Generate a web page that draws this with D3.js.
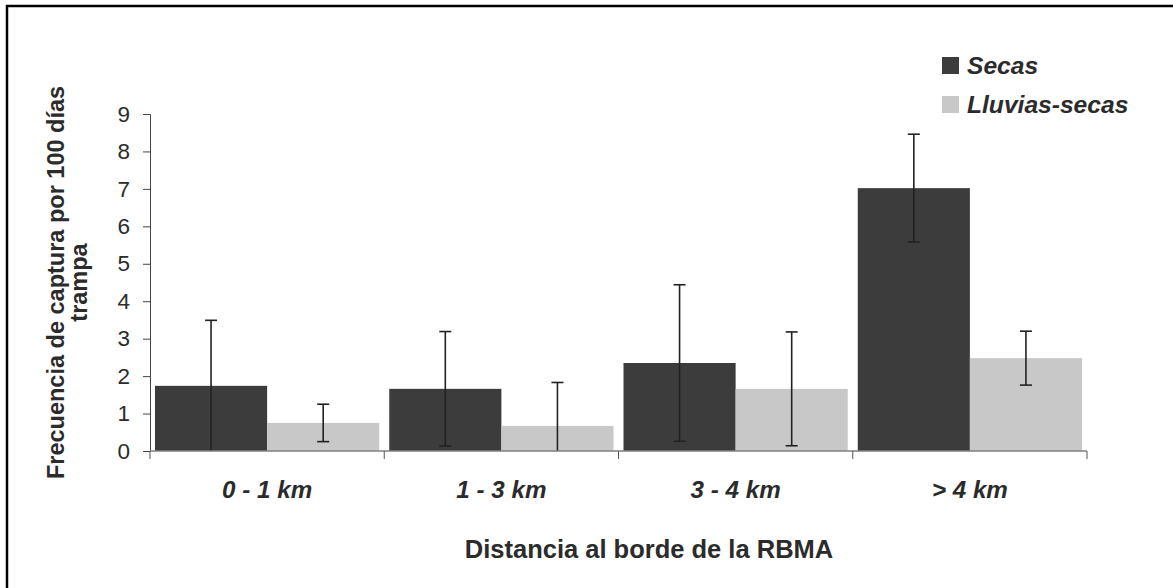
<!DOCTYPE html>
<html>
<head>
<meta charset="utf-8">
<script src="https://cdn.jsdelivr.net/npm/d3@7"></script>
<style>
  html, body { margin: 0; padding: 0; background: #fff; }
  svg { display: block; font-family: "Liberation Sans", Arial, sans-serif; }
</style>
</head>
<body>
<svg id="chart" width="1173" height="588"></svg>
<script>
// Distance classes from the reserve border
const categories = ["0 - 1 km", "1 - 3 km", "3 - 4 km", "> 4 km"];
const seriesNames = ["Secas", "Lluvias-secas"];
const seriesColors = ["#3c3c3c", "#c8c8c8"];

// Capture frequency per 100 trap-days, with error half-widths
const secasValues = [1.74, 1.66, 2.35, 7.02];
const secasErrors = [1.75, 1.53, 2.09, 1.44];
const lluviasValues = [0.75, 0.67, 1.66, 2.48];
const lluviasErrors = [0.50, 1.16, 1.52, 0.72];

const yTicks = [0, 1, 2, 3, 4, 5, 6, 7, 8, 9];

const svg = d3.select("#chart");

// outer frame
svg.append("rect")
  .attr("x", 7).attr("y", 6)
  .attr("width", 1300).attr("height", 700)
  .attr("fill", "none").attr("stroke", "#000").attr("stroke-width", 2.5);

const plot = { left: 150, right: 1087, top: 114, bottom: 451 };

const x = d3.scaleBand().domain(categories).range([plot.left, plot.right]).padding(0);
const xSub = d3.scaleBand().domain(seriesNames).range([5, x.bandwidth() - 5]).padding(0);
const y = d3.scaleLinear().domain([0, 9]).range([plot.bottom, plot.top]);

const rows = categories.map((c, i) => ({
  cat: c,
  vals: [
    { s: seriesNames[0], v: secasValues[i], e: secasErrors[i], color: seriesColors[0] },
    { s: seriesNames[1], v: lluviasValues[i], e: lluviasErrors[i], color: seriesColors[1] }
  ]
}));

// bars
const groups = svg.append("g").selectAll("g")
  .data(rows).join("g")
  .attr("transform", d => `translate(${x(d.cat)},0)`);

groups.selectAll("rect")
  .data(d => d.vals).join("rect")
  .attr("x", d => xSub(d.s))
  .attr("y", d => y(d.v))
  .attr("width", xSub.bandwidth())
  .attr("height", d => y(0) - y(d.v))
  .attr("fill", d => d.color);

// y axis
const yAxis = svg.append("g")
  .attr("transform", `translate(${plot.left},0)`)
  .call(d3.axisLeft(y).tickValues(yTicks).tickFormat(d3.format("d")).tickSize(7).tickPadding(13));
yAxis.select(".domain").attr("stroke", "#444").attr("stroke-width", 1);
yAxis.selectAll(".tick line").attr("stroke", "#444");
yAxis.selectAll(".tick text")
  .attr("font-size", 22.5).attr("fill", "#2b2b2b")
  .attr("font-family", "'Liberation Sans', Arial, sans-serif");

// x axis with ticks at category boundaries
const xAxisG = svg.append("g").attr("transform", `translate(0,${plot.bottom})`);
xAxisG.append("line")
  .attr("x1", plot.left).attr("x2", plot.right)
  .attr("stroke", "#808080").attr("stroke-width", 1.5);
const boundaries = categories.map(c => x(c)).concat([x(categories[categories.length - 1]) + x.bandwidth()]);
xAxisG.selectAll("line.tk")
  .data(boundaries).join("line")
  .attr("class", "tk")
  .attr("x1", d => d).attr("x2", d => d)
  .attr("y1", 0).attr("y2", 8)
  .attr("stroke", "#555").attr("stroke-width", 1);
xAxisG.selectAll("text")
  .data(categories).join("text")
  .attr("x", d => x(d) + x.bandwidth() / 2)
  .attr("y", 47)
  .attr("text-anchor", "middle")
  .attr("font-size", 24.2).attr("font-weight", "bold").attr("font-style", "italic")
  .attr("fill", "#2b2b2b")
  .text(d => d);

// error bars
const errG = groups.selectAll("g.err")
  .data(d => d.vals).join("g")
  .attr("class", "err")
  .attr("transform", d => `translate(${xSub(d.s) + xSub.bandwidth() / 2},0)`);
errG.append("line")
  .attr("y1", d => y(d.v + d.e))
  .attr("y2", d => y(Math.max(0, d.v - d.e)))
  .attr("stroke", "#222").attr("stroke-width", 1.6);
errG.append("line")
  .attr("x1", -6).attr("x2", 6)
  .attr("y1", d => y(d.v + d.e)).attr("y2", d => y(d.v + d.e))
  .attr("stroke", "#222").attr("stroke-width", 1.6);
errG.filter(d => d.v - d.e > 0).append("line")
  .attr("x1", -6).attr("x2", 6)
  .attr("y1", d => y(d.v - d.e)).attr("y2", d => y(d.v - d.e))
  .attr("stroke", "#222").attr("stroke-width", 1.6);

// axis titles
svg.append("text")
  .attr("x", 649).attr("y", 558)
  .attr("text-anchor", "middle")
  .attr("font-size", 25.5).attr("font-weight", "bold").attr("fill", "#2b2b2b")
  .text("Distancia al borde de la RBMA");

const yTitle = svg.append("text")
  .attr("transform", `translate(64,${(plot.top + plot.bottom) / 2}) rotate(-90)`)
  .attr("text-anchor", "middle")
  .attr("font-size", 23.5).attr("font-weight", "bold").attr("fill", "#2b2b2b");
yTitle.append("tspan").attr("x", 0).attr("y", 0).text("Frecuencia de captura por 100 días");
yTitle.append("tspan").attr("x", 0).attr("y", 23).text("trampa");

// legend
const legend = svg.append("g").attr("transform", "translate(942,57)");
const li = legend.selectAll("g").data(seriesNames).join("g")
  .attr("transform", (d, i) => `translate(0,${i * 39})`);
li.append("rect")
  .attr("width", 17).attr("height", 17)
  .attr("fill", (d, i) => seriesColors[i]);
li.append("text")
  .attr("x", 25).attr("y", 16.5)
  .attr("font-size", 24.6).attr("font-weight", "bold").attr("font-style", "italic")
  .attr("fill", "#2b2b2b")
  .text(d => d);
</script>
</body>
</html>
